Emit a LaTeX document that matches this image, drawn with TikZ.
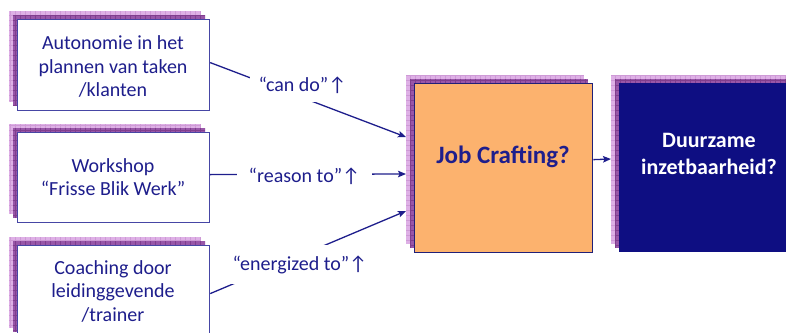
\documentclass[tikz,border=0pt]{standalone}
\usepackage{fontspec}
\setmainfont{Carlito}
\usetikzlibrary{arrows.meta}
\definecolor{txt}{RGB}{30,30,140}
\definecolor{bord}{RGB}{70,70,165}
\definecolor{jcbord}{RGB}{32,32,120}
\definecolor{shl}{RGB}{222,176,230}
\definecolor{shlg}{RGB}{206,154,214}
\definecolor{shd}{RGB}{152,86,168}
\definecolor{shdg}{RGB}{128,62,142}
\definecolor{jcfill}{RGB}{252,178,110}
\definecolor{dzfill}{RGB}{14,14,130}
\newcommand\shadowlayers[4]{%
  \fill[shl] (#1-8,#2-8) rectangle (#3-8,#4-8);
  \begin{scope}
    \clip (#1-8,#2-8) rectangle (#3-8,#4-8);
    \draw[shlg,line width=0.4pt] (#1-8,#2-8) grid[step=5pt] (#3-8,#4-8);
  \end{scope}
  \fill[shd] (#1-4,#2-4) rectangle (#3-4,#4-4);
  \begin{scope}
    \clip (#1-4,#2-4) rectangle (#3-4,#4-4);
    \draw[shdg,line width=0.4pt] (#1-4,#2-4) grid[step=5pt] (#3-4,#4-4);
  \end{scope}
}
\tikzset{
  lbox/.style={draw=bord, line width=1.2pt, fill=white, anchor=north west,
    minimum width=192pt, inner sep=0pt},
  btext/.style={text=txt, align=center, font=\fontsize{20}{23.5}\selectfont},
  conn/.style={draw=txt, line width=1.3pt, -{Stealth[length=8pt,width=6.5pt,inset=1.5pt]}},
  lab/.style={fill=white, text=txt, inner sep=0pt, font=\fontsize{20}{23.5}\selectfont},
}
\begin{document}
\begin{tikzpicture}[x=1pt,y=-1pt]
\useasboundingbox (0,0) rectangle (786,332);
\clip (0,0) rectangle (786,332);
% shadows
\shadowlayers{17}{19}{209}{110}
\shadowlayers{17}{132}{209}{222}
\shadowlayers{17}{245}{209}{336}
\shadowlayers{414}{83}{592}{252}
\shadowlayers{619}{83}{797}{252}
% boxes
\node[lbox, minimum height=91pt] (b1) at (17,19) {};
\node[lbox, minimum height=90pt] (b2) at (17,132) {};
\node[lbox, minimum height=91pt] (b3) at (17,245) {};
\node[btext] (b1t) at (113,66.5) {Autonomie in het\\plannen van taken\\/klanten};
\node[btext] (b2t) at (113,177) {Workshop\\“Frisse Blik Werk”};
\node[btext] (b3t) at (113,291) {Coaching door\\leidinggevende\\/trainer};
\node[draw=jcbord, line width=1.3pt, fill=jcfill, anchor=north west,
  minimum width=178pt, minimum height=169pt, inner sep=0pt] (jc) at (414,83) {};
\node[text=txt, font=\bfseries\fontsize{25}{30}\selectfont] (jct) at (503,157) {Job Crafting?};
\node[fill=dzfill, anchor=north west,
  minimum width=178pt, minimum height=169pt, inner sep=0pt] (dz) at (619,83) {};
\node[text=white, align=center, font=\bfseries\fontsize{22}{27}\selectfont] (dzt) at (709,153.5) {Duurzame\\inzetbaarheid?};
% arrow targets on shadow edges
\coordinate (t1) at (406,137);
\coordinate (t2) at (406,174);
\coordinate (t3) at (406,211);
\coordinate (dzin) at (611,159);
% connectors
\draw[conn] ([yshift=2.5pt]b1.east) -- (t1);
\draw[conn] ([yshift=3pt]b2.east) -- (t2);
\draw[conn] ([yshift=-2.5pt]b3.east) -- (t3);
\draw[conn] ([yshift=8.5pt]jc.east) -- (dzin);
% labels (white text boxes over the lines)
\node[lab, minimum width=105pt, minimum height=34pt] (l1) at (302.5,85) {“can do”↑};
\node[lab, minimum width=135pt, minimum height=30pt] (l2) at (304.5,176) {“reason to”↑};
\node[lab, minimum width=140pt, minimum height=39pt] (l3) at (300,264.5) {“energized to”↑};
\end{tikzpicture}
\end{document}
